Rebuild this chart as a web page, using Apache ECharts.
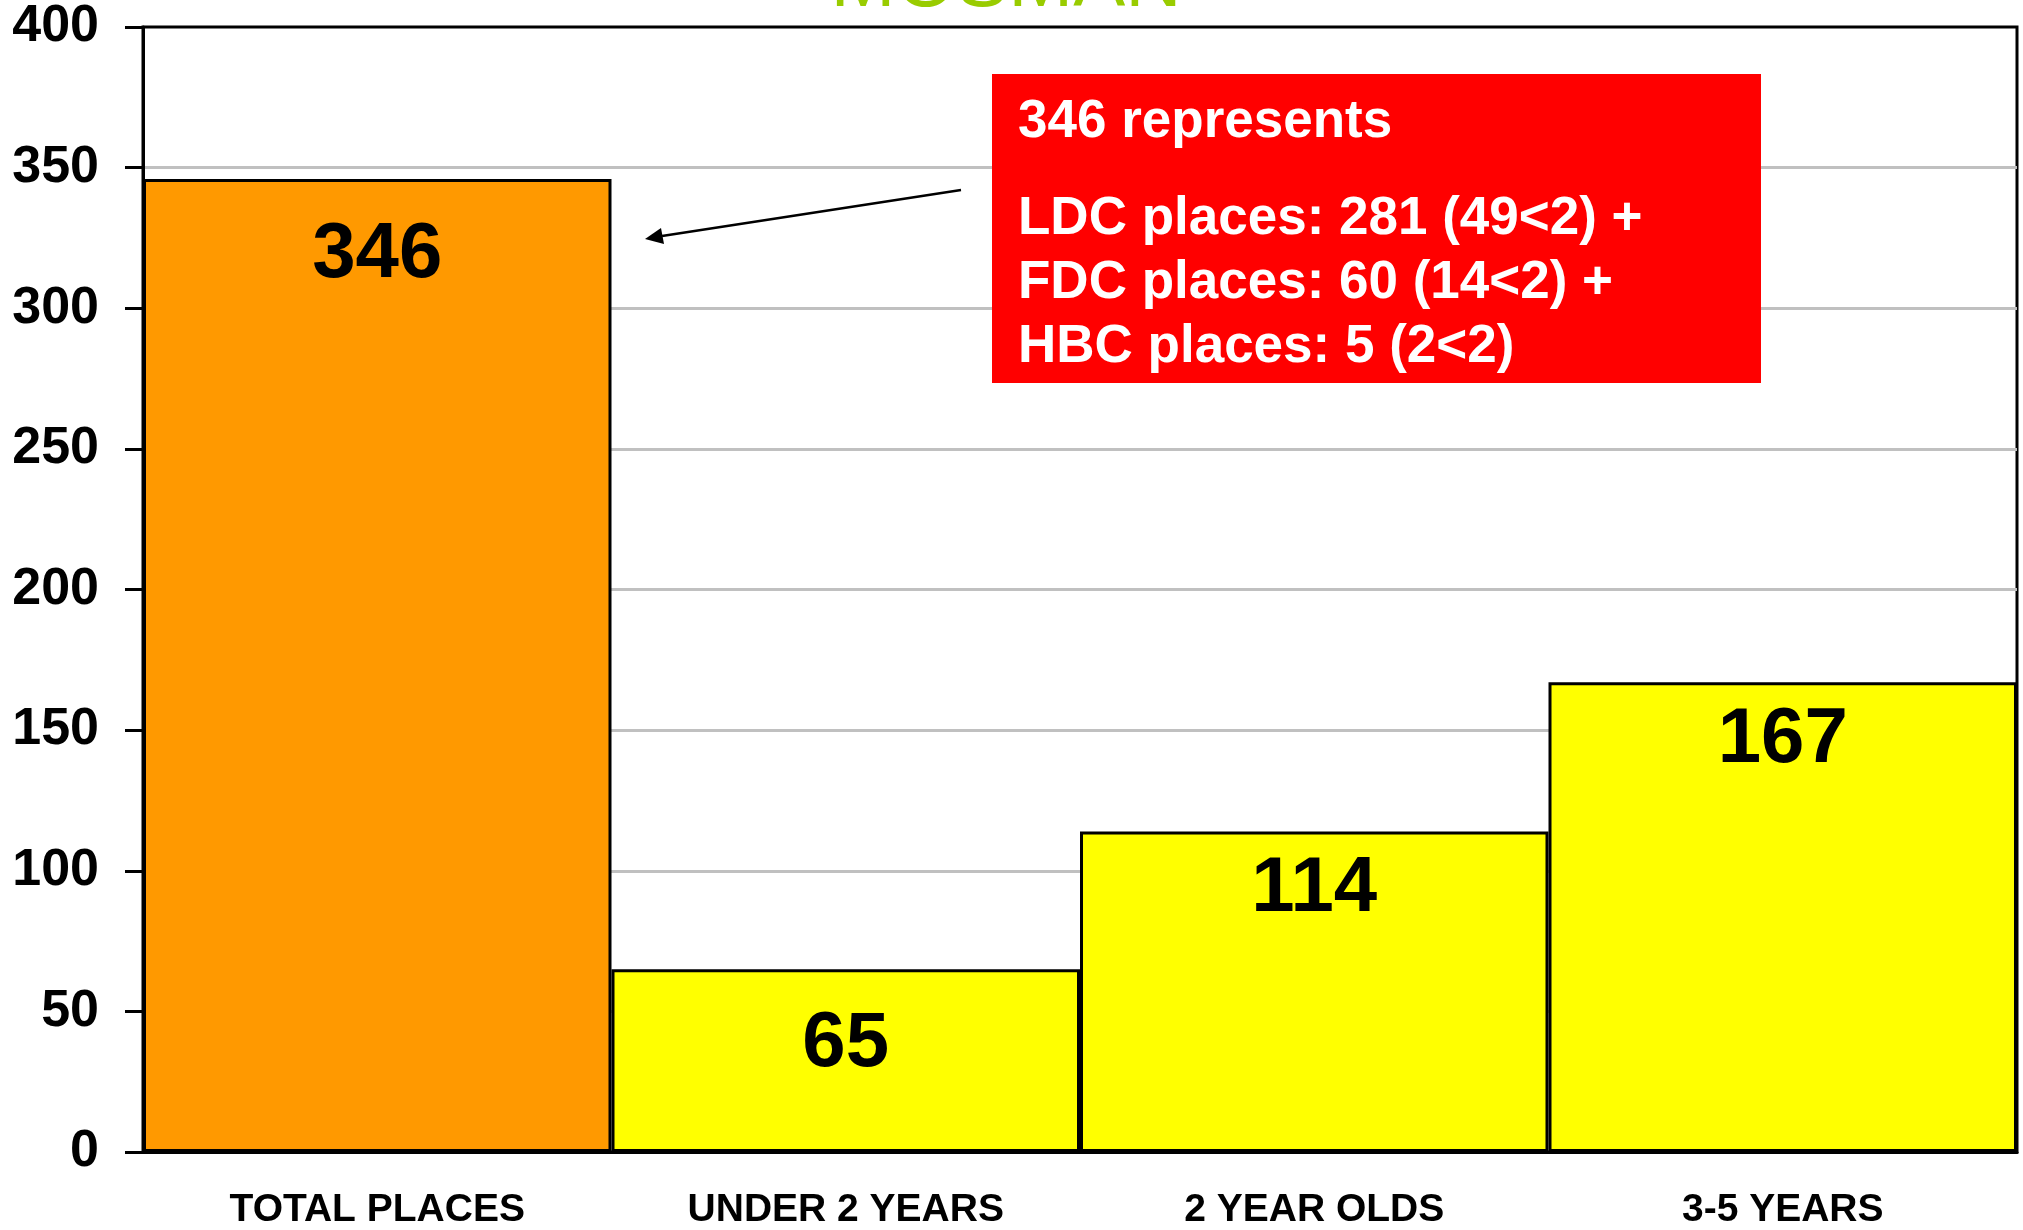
<!DOCTYPE html>
<html lang="en">
<head>
    <meta charset="UTF-8">
    <title>Mosman places</title>
    <script src="https://cdn.jsdelivr.net/npm/echarts@6/dist/echarts.min.js"></script>
    <style>
        html, body { margin: 0; padding: 0; background: #fff; }
    </style>
</head>
<body>

    <div id="main" style="width: 2023px;height:1230px;"></div>

    <script type="text/javascript">
        // data
        var categories = ['TOTAL PLACES', 'UNDER 2 YEARS', '2 YEAR OLDS', '3-5 YEARS'];
        var places = [346, 65, 114, 167];
        var yTicks = [0, 50, 100, 150, 200, 250, 300, 350, 400];
        var noteTitle = '346 represents';
        var noteLines = ['LDC places: 281 (49<2) +', 'FDC places: 60 (14<2) +', 'HBC places: 5 (2<2)'];

        var font = '"Liberation Sans", Arial, sans-serif';
        var labelGap = [38, 36, 19, 19]; // value label distance from bar top, differs per bar in the original
        var myChart = echarts.init(document.getElementById('main'));

        var barData = places.map(function (v, i) {
            return {
                value: v,
                itemStyle: { color: i === 0 ? '#FF9900' : '#FFFF00' },
                label: { distance: labelGap[i] }
            };
        });

        // annotation box + arrow (not data)
        var note = [
            { type: 'rect', shape: { x: 992, y: 74, width: 769, height: 309 }, style: { fill: '#FF0000' }, z: 10 },
            { type: 'text', x: 1018, y: 122, style: { text: noteTitle, fill: '#fff', font: 'bold 53px ' + font, verticalAlign: 'middle' }, z: 11 }
        ];
        noteLines.forEach(function (t, i) {
            note.push({ type: 'text', x: 1018, y: 219 + i * 64, style: { text: t, fill: '#fff', font: 'bold 53px ' + font, verticalAlign: 'middle' }, z: 11 });
        });
        note.push({ type: 'line', shape: { x1: 961, y1: 190, x2: 662, y2: 236 }, style: { stroke: '#000', lineWidth: 2.5 }, z: 10 });
        note.push({ type: 'polygon', shape: { points: [[645, 239], [661, 228], [664, 244]] }, style: { fill: '#000' }, z: 10 });
        note.push({ type: 'text', x: 1006, y: -16, style: { text: 'MOSMAN', fill: '#99CC00', font: '78px ' + font, align: 'center', verticalAlign: 'middle' }, z: 11 });

        var option = {
            animation: false,
            backgroundColor: '#fff',
            grid: {
                left: 143, right: 6, top: 27, bottom: 78,
                show: true, borderColor: '#000', borderWidth: 3
            },
            xAxis: {
                type: 'category',
                data: categories,
                axisLine: { lineStyle: { color: '#000', width: 3 } },
                axisTick: { length: 16, lineStyle: { color: '#000', width: 3 } },
                axisLabel: { margin: 39, color: '#000', fontSize: 39, fontWeight: 'bold', fontFamily: font }
            },
            yAxis: {
                type: 'value',
                min: yTicks[0],
                max: yTicks[yTicks.length - 1],
                interval: yTicks[1] - yTicks[0],
                axisLine: { show: true, lineStyle: { color: '#000', width: 3 } },
                axisTick: { show: true, length: 18, lineStyle: { color: '#000', width: 3 } },
                axisLabel: { margin: 44, color: '#000', fontSize: 52, fontWeight: 'bold', fontFamily: font },
                splitLine: { showMaxLine: false, lineStyle: { color: '#C0C0C0', width: 3 } }
            },
            series: [{
                type: 'bar',
                data: barData,
                barCategoryGap: 0,
                itemStyle: { borderColor: '#000', borderWidth: 3 },
                label: {
                    show: true,
                    position: 'insideTop',
                    color: '#000',
                    fontSize: 78,
                    fontWeight: 'bold',
                    fontFamily: font
                }
            }],
            graphic: note
        };

        myChart.setOption(option);
    </script>
</body>
</html>
